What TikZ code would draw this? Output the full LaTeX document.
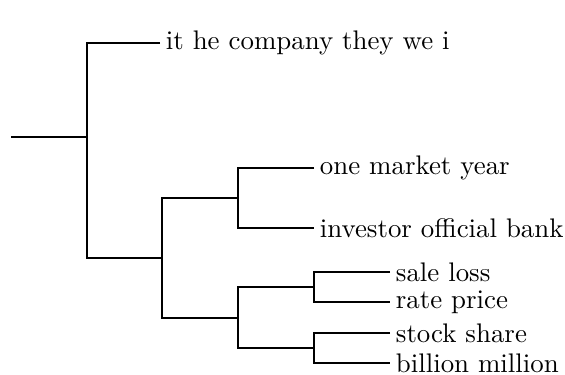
\documentclass[tikz,border=0pt]{standalone}
\usetikzlibrary{positioning}
\tikzset{leaf/.style={anchor=west,inner sep=2pt},
  branch/.style={line width=0.7pt}}

\begin{document}
\begin{tikzpicture}[x=0.372pt,y=-0.372pt]
\useasboundingbox (0,0) rectangle (565,374);

% Junction points of the tree
\coordinate (root) at (11,137);
\coordinate (J1) at (87,137);
\coordinate (J2) at (162,258);
\coordinate (J3) at (238,198);
\coordinate (J4) at (238,318);
\coordinate (J5) at (314,287);
\coordinate (J6) at (314,348);

% Leaves, placed at the ends of their branches
\node [leaf] (w1) at (160,43)  {it he company they we i};
\node [leaf] (w2) at (314,168) {one market year};
\node [leaf] (w3) at (314,228) {investor official bank};
\node [leaf] (w4) at (390,272) {sale loss};
\node [leaf] (w5) at (390,302) {rate price};
\node [leaf] (w6) at (390,333) {stock share};
\node [leaf] (w7) at (390,363) {billion million};

% Root and first split
\draw [branch] (root) -- (J1);
\draw [branch] (w1.west) -| (J1) |- (J2);

% Second level
\draw [branch] (J3) -| (J2) |- (J4);

% Upper group
\draw [branch] (w2.west) -| (J3) |- (w3.west);

% Lower group
\draw [branch] (J5) -| (J4) |- (J6);
\draw [branch] (w4.west) -| (J5) |- (w5.west);
\draw [branch] (w6.west) -| (J6) |- (w7.west);
\end{tikzpicture}
\end{document}
